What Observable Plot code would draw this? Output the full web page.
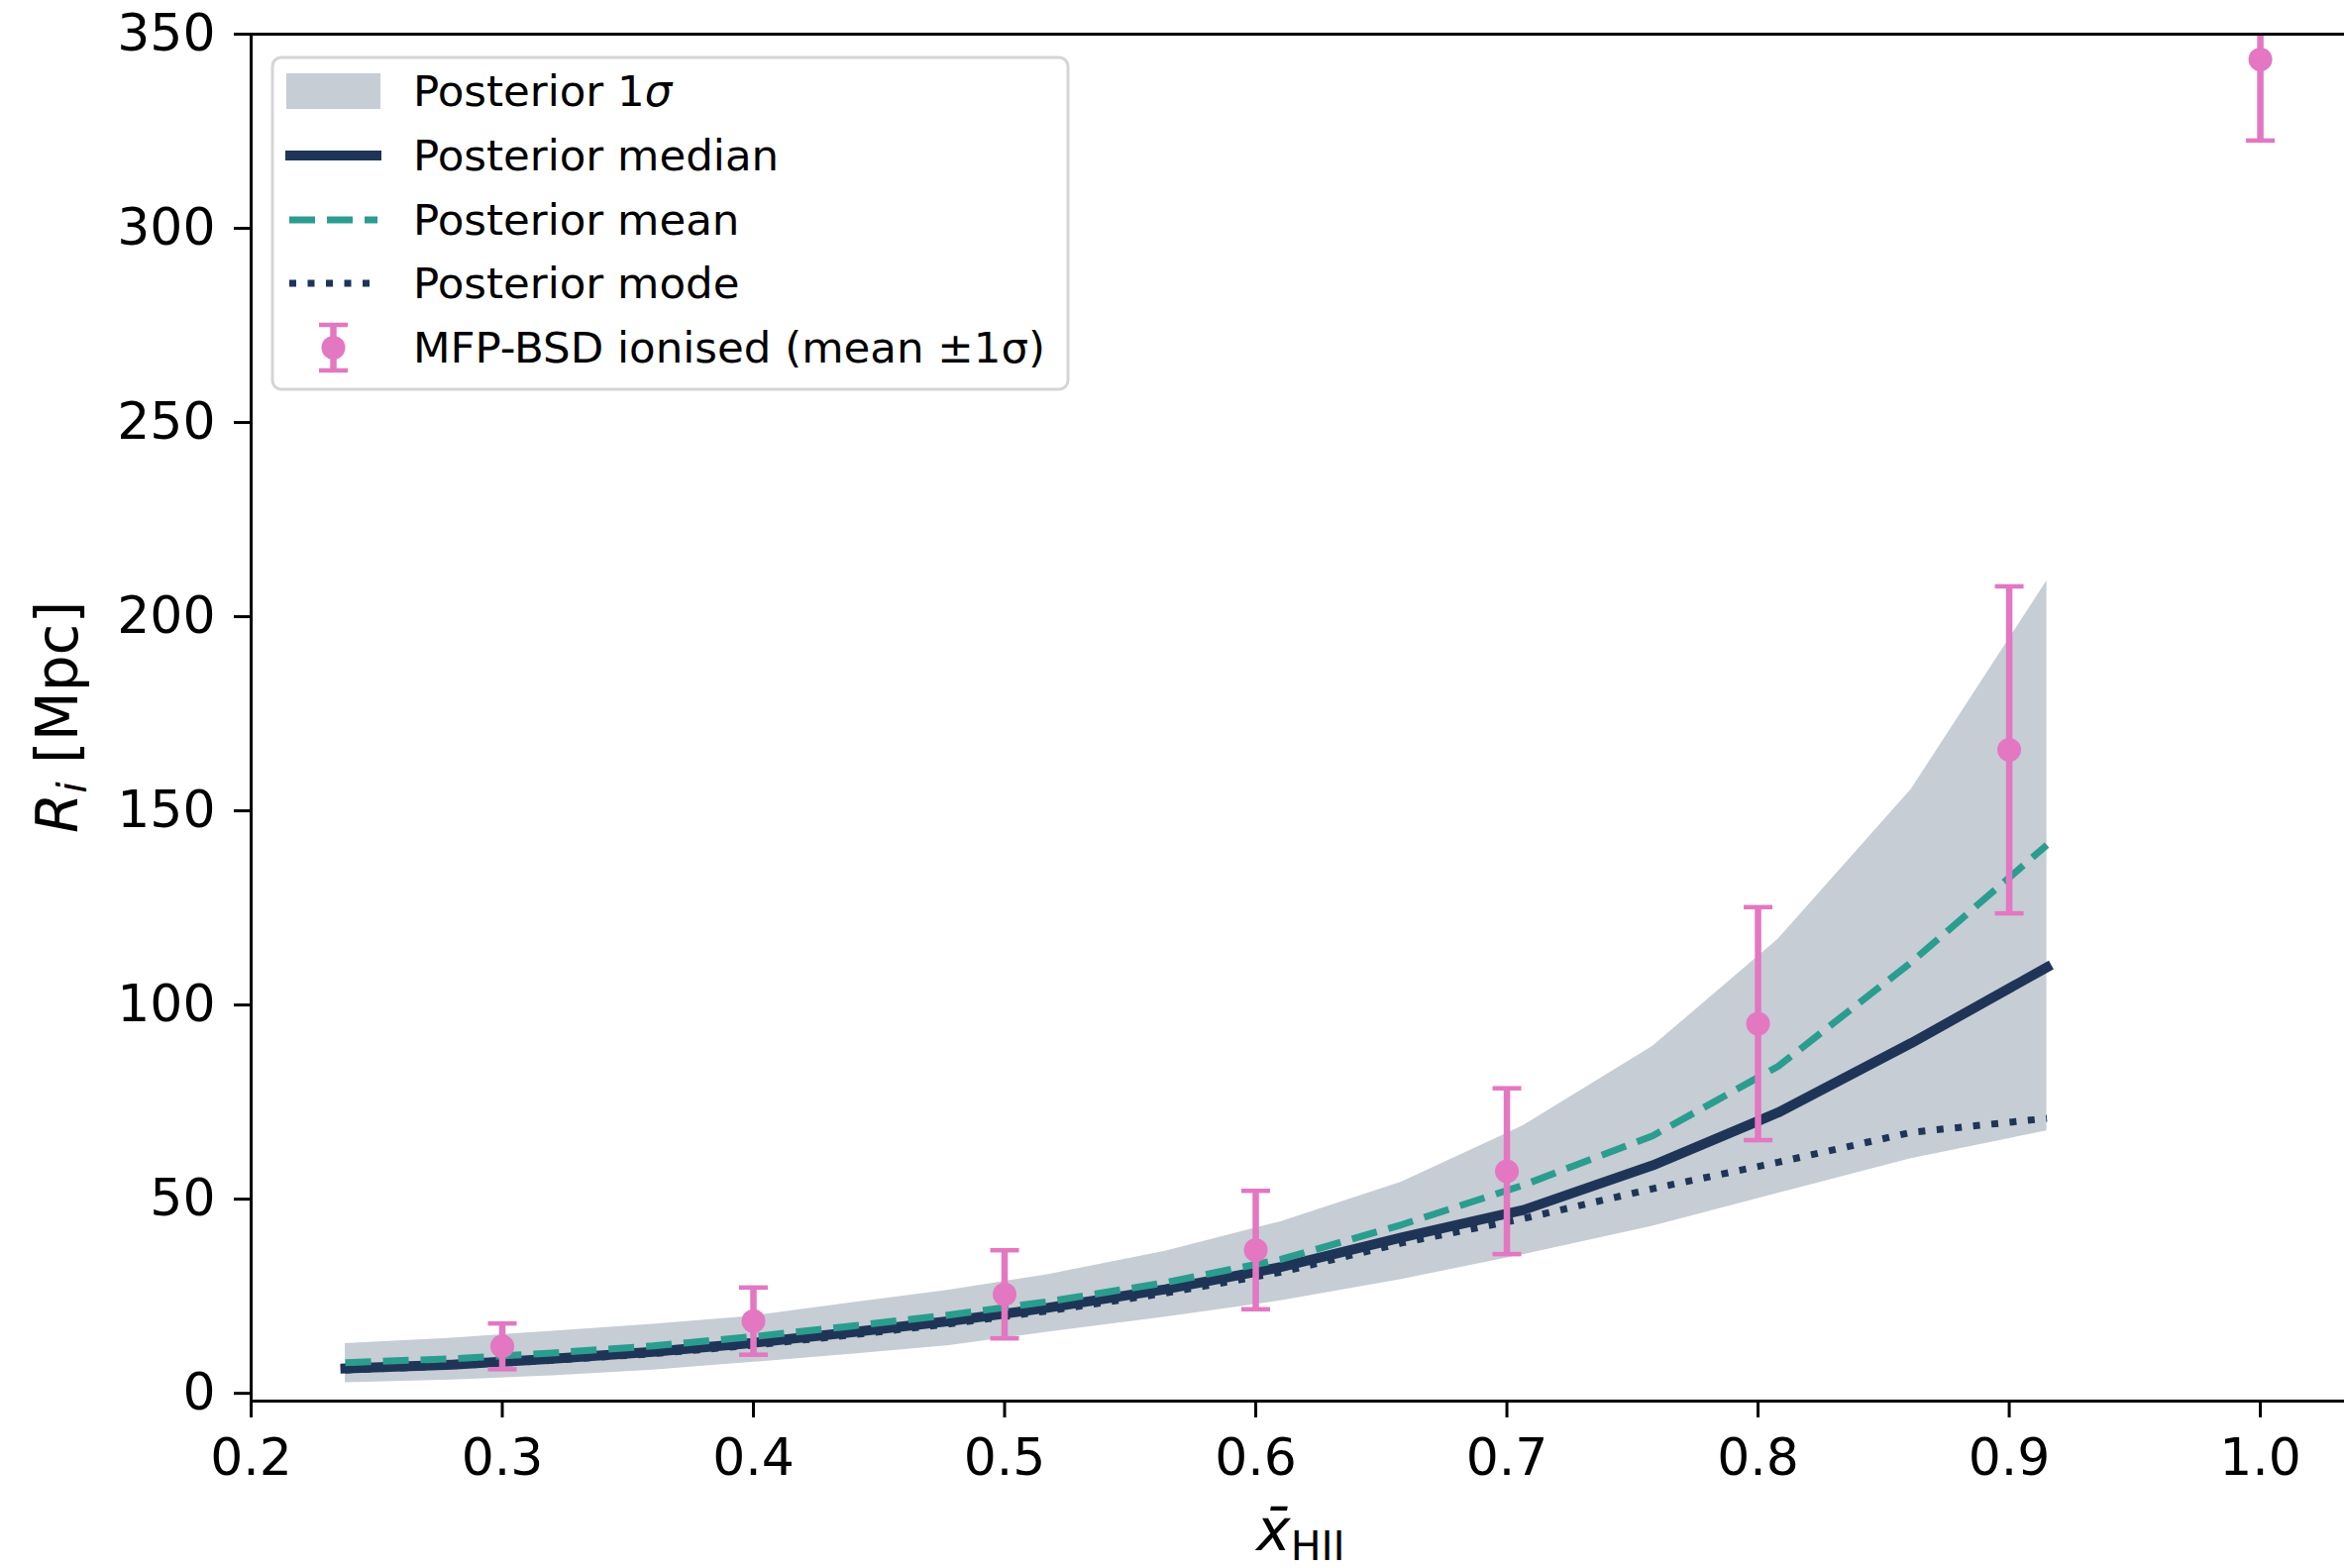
<!DOCTYPE html>
<html>
<head>
<meta charset="utf-8">
<script src="https://cdn.jsdelivr.net/npm/d3@7"></script>
<script src="https://cdn.jsdelivr.net/npm/@observablehq/plot@0.6"></script>
<style>
  html, body { margin: 0; padding: 0; background: #fff; }
  #chart svg { display: block; }
</style>
</head>
<body>
<div id="chart"></div>
<script>
// ---- data ----
const xGrid      = [0.2375, 0.28, 0.32, 0.36, 0.40, 0.44, 0.478, 0.517, 0.564, 0.610, 0.658, 0.7065, 0.758, 0.808, 0.861, 0.915];
const bandLower  = [2.7, 3.4, 4.5, 6.0, 8.0, 10.1, 12.3, 15.7, 19.6, 23.8, 29.3, 35.7, 43.0, 51.5, 60.4, 67.6];
const bandUpper  = [12.8, 14.2, 16.0, 17.8, 19.9, 23.4, 26.6, 30.5, 36.6, 44.2, 54.4, 68.9, 89.3, 116.9, 155.5, 209.2];
const medianR    = [6.4, 7.4, 8.9, 10.7, 13.0, 15.8, 18.6, 22.0, 26.8, 32.5, 40.1, 47.2, 58.7, 72.3, 90.2, 109.7];
const meanR      = [7.9, 8.9, 10.4, 12.2, 14.6, 17.4, 20.2, 23.6, 28.5, 34.5, 43.4, 53.6, 66.3, 84.2, 111.0, 141.2];
const modeR      = [6.0, 7.1, 8.5, 10.2, 12.4, 15.1, 17.9, 21.2, 25.8, 31.2, 38.7, 45.0, 52.7, 59.5, 67.2, 70.8];

const obsX       = [0.3, 0.4, 0.5, 0.6, 0.7, 0.8, 0.9, 1.0];
const obsMean    = [12.1, 18.6, 25.5, 36.9, 57.2, 95.2, 165.7, 343.5];
const obsSigma   = [5.9, 8.65, 11.35, 15.25, 21.35, 30.0, 42.1, 20.9];

const xTicks = [0.2, 0.3, 0.4, 0.5, 0.6, 0.7, 0.8, 0.9, 1.0];
const yTicks = [0, 50, 100, 150, 200, 250, 300, 350];
const xDomain = [0.2, 1.0335];
const yDomain = [-2, 350];

const legendLabels = ["Posterior 1", "Posterior median", "Posterior mean", "Posterior mode", "MFP-BSD ionised (mean \u00b11\u03c3)"];

// ---- styles ----
const bandColor = "#c6cdd5";
const navy = "#1f3557";
const teal = "#2a9d8f";
const pink = "#e377c2";
const font = "DejaVu Sans";

// ---- tables ----
const posterior = xGrid.map((x, i) => ({x, lo: bandLower[i], hi: bandUpper[i], median: medianR[i], mean: meanR[i], mode: modeR[i]}));
const obs = obsX.map((x, i) => ({x, m: obsMean[i], lo: obsMean[i] - obsSigma[i], hi: obsMean[i] + obsSigma[i]}));

const capSymbol = {
  draw(ctx, size) {
    const r = Math.sqrt(size / Math.PI);
    ctx.moveTo(-r, 0);
    ctx.lineTo(r, 0);
  }
};

const chart = Plot.plot({
  width: 2366,
  height: 1583,
  marginLeft: 253,
  marginRight: 0,
  marginTop: 34,
  marginBottom: 169,
  style: {fontFamily: font, fontSize: "52px", color: "#000", background: "#fff", overflow: "visible"},
  x: {domain: xDomain},
  y: {domain: yDomain},
  marks: [
    Plot.areaY(posterior, {x: "x", y1: "lo", y2: "hi", fill: bandColor, clip: true}),
    Plot.lineY(posterior, {x: "x", y: "median", stroke: navy, strokeWidth: 10, strokeLinecap: "square", strokeLinejoin: "round", clip: true}),
    Plot.lineY(posterior, {x: "x", y: "mean", stroke: teal, strokeWidth: 7, strokeDasharray: "26,12", strokeLinecap: "butt", clip: true}),
    Plot.lineY(posterior, {x: "x", y: "mode", stroke: navy, strokeWidth: 7, strokeDasharray: "7,11.5", strokeLinecap: "butt", clip: true}),
    Plot.ruleX(obs, {x: "x", y1: "lo", y2: "hi", stroke: pink, strokeWidth: 6.5, clip: true}),
    Plot.dot(obs, {x: "x", y: "lo", symbol: capSymbol, r: 14.5, stroke: pink, strokeWidth: 4.5, clip: true}),
    Plot.dot(obs, {x: "x", y: "hi", symbol: capSymbol, r: 14.5, stroke: pink, strokeWidth: 4.5, clip: true}),
    Plot.dot(obs, {x: "x", y: "m", r: 12, fill: pink, clip: true}),
    Plot.ruleX([xDomain[0]], {stroke: "#000", strokeWidth: 3}),
    Plot.ruleY([yDomain[0]], {stroke: "#000", strokeWidth: 3}),
    Plot.ruleY([yDomain[1]], {stroke: "#000", strokeWidth: 3}),
    Plot.axisX({ticks: xTicks, tickFormat: d3.format(".1f"), tickSize: 17, tickPadding: 21, strokeWidth: 3, label: null, fontSize: 52}),
    Plot.axisY({ticks: yTicks, tickSize: 17, tickPadding: 19, strokeWidth: 3, label: null, fontSize: 52})
  ]
});

document.getElementById("chart").appendChild(chart);

// ---- axis labels ----
const svg = d3.select(chart);
const xl = svg.append("text")
  .attr("x", 1313).attr("y", 1565)
  .attr("text-anchor", "middle")
  .attr("font-family", font).attr("font-size", 58).attr("fill", "#000");
xl.append("tspan").attr("font-style", "italic").text("x\u0304");
xl.append("tspan").attr("font-size", 41).attr("dy", 10).text("HII");

const yl = svg.append("text")
  .attr("transform", "translate(78,724) rotate(-90)")
  .attr("text-anchor", "middle")
  .attr("font-family", font).attr("font-size", 58).attr("fill", "#000");
yl.append("tspan").attr("font-style", "italic").text("R");
yl.append("tspan").attr("font-style", "italic").attr("font-size", 41).attr("dy", 9).text("i");
yl.append("tspan").attr("dy", -9).text(" [Mpc]");

// ---- legend ----
const lg = svg.append("g").attr("font-family", font).attr("font-size", 43.5).attr("text-anchor", "start");
lg.append("rect")
  .attr("x", 275).attr("y", 58).attr("width", 803).attr("height", 335)
  .attr("rx", 9).attr("fill", "#fff").attr("fill-opacity", 0.8)
  .attr("stroke", "#d5d5d5").attr("stroke-width", 3);

const rows = [92, 157, 222, 286, 351];
const hx0 = 289, hx1 = 384, tx = 417;
lg.append("rect").attr("x", hx0).attr("y", rows[0] - 18).attr("width", hx1 - hx0).attr("height", 36).attr("fill", bandColor);
lg.append("line").attr("x1", hx0 + 4).attr("x2", hx1 - 4).attr("y1", rows[1]).attr("y2", rows[1])
  .attr("stroke", navy).attr("stroke-width", 10).attr("stroke-linecap", "square");
lg.append("line").attr("x1", hx0 + 3).attr("x2", hx1 - 3).attr("y1", rows[2]).attr("y2", rows[2])
  .attr("stroke", teal).attr("stroke-width", 7).attr("stroke-dasharray", "26,12");
lg.append("line").attr("x1", hx0 + 3).attr("x2", hx1 - 3).attr("y1", rows[3]).attr("y2", rows[3])
  .attr("stroke", navy).attr("stroke-width", 7).attr("stroke-dasharray", "7,11.5");
const ex = (hx0 + hx1) / 2;
lg.append("line").attr("x1", ex).attr("x2", ex).attr("y1", rows[4] - 23).attr("y2", rows[4] + 23)
  .attr("stroke", pink).attr("stroke-width", 6.5);
[rows[4] - 23, rows[4] + 23].forEach(y => lg.append("line").attr("x1", ex - 14.5).attr("x2", ex + 14.5)
  .attr("y1", y).attr("y2", y).attr("stroke", pink).attr("stroke-width", 4.5));
lg.append("circle").attr("cx", ex).attr("cy", rows[4]).attr("r", 12).attr("fill", pink);

legendLabels.forEach((t, i) => {
  const el = lg.append("text").attr("x", tx).attr("y", rows[i] + 15).attr("fill", "#000").attr("text-anchor", "start");
  el.append("tspan").text(t);
  if (i === 0) el.append("tspan").attr("font-style", "italic").text("\u03c3");
});
</script>
</body>
</html>
